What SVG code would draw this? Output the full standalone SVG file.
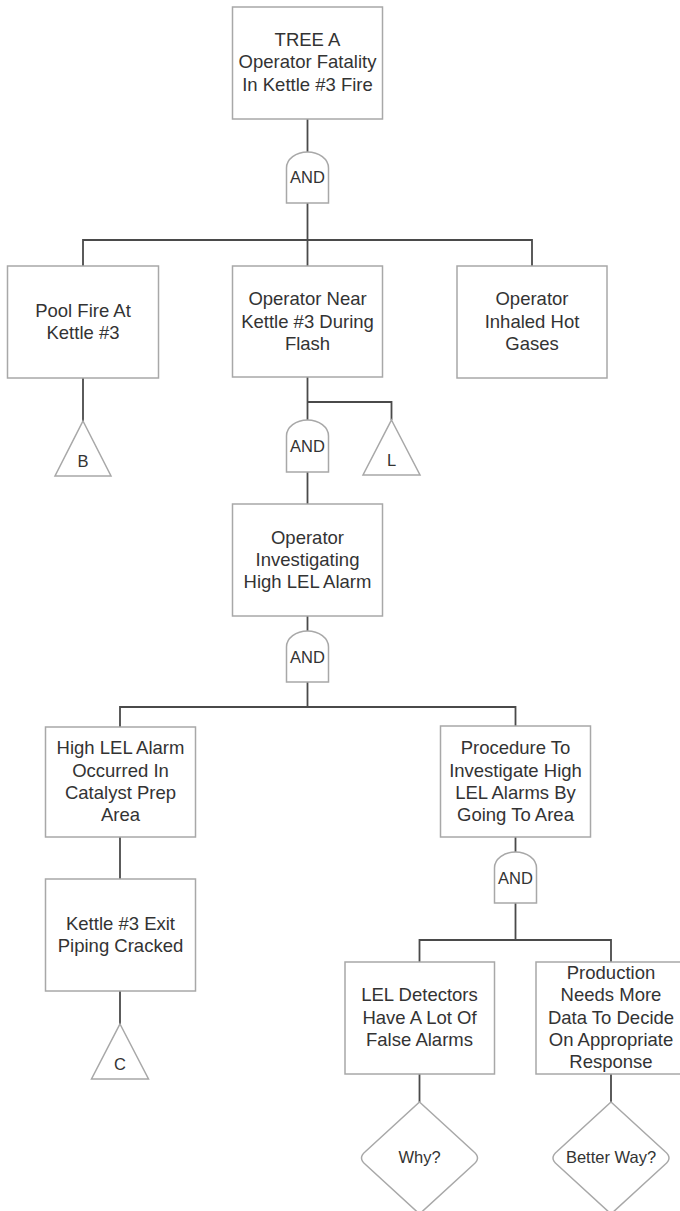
<svg xmlns="http://www.w3.org/2000/svg" width="680" height="1211" viewBox="0 0 680 1211">
  <style>
    .box { fill: #ffffff; stroke: #a8a8a8; stroke-width: 1.5; }
    .gate { fill: #ffffff; stroke: #a8a8a8; stroke-width: 1.5; }
    .tri { fill: #ffffff; stroke: #a8a8a8; stroke-width: 1.5; }
    .dia { fill: #ffffff; stroke: #a8a8a8; stroke-width: 1.5; }
    .wire { fill: none; stroke: #4a4a4a; stroke-width: 1.8; }
    text { font-family: "Liberation Sans", Arial, sans-serif; fill: #333333; text-anchor: middle; }
    .lbl { font-size: 18.5px; }
    .sm { font-size: 16.5px; }
  </style>
  <rect width="680" height="1211" fill="#ffffff"/>

  <!-- connectors -->
  <g id="connectors" class="wire">
    <path d="M307.5 119 V152"/>
    <path d="M307.5 203 V240"/>
    <path d="M83 266 V240 H532 V266"/>
    <path d="M307.5 240 V266"/>
    <path d="M83 378 V421"/>
    <path d="M307.5 377 V420"/>
    <path d="M307.5 402 H391.5 V420"/>
    <path d="M307.5 472 V504"/>
    <path d="M307.5 616 V631"/>
    <path d="M307.5 682 V707"/>
    <path d="M120 727 V707 H515.5 V726"/>
    <path d="M120 837 V879"/>
    <path d="M120 991 V1024"/>
    <path d="M515.5 837 V852"/>
    <path d="M515.5 903 V940"/>
    <path d="M419.5 962 V940 H611 V962"/>
    <path d="M419.5 1074 V1102"/>
    <path d="M611 1074 V1102"/>
  </g>

  <!-- top event -->
  <g id="top-event">
    <rect class="box" x="232.5" y="7" width="150" height="112"/>
    <text class="lbl"><tspan x="307.5" y="45.5">TREE A</tspan><tspan x="307.5" y="68">Operator Fatality</tspan><tspan x="307.5" y="90.5">In Kettle #3 Fire</tspan></text>
  </g>

  <g id="gate-and-1">
    <path class="gate" d="M286.5 203 V168 A21 16 0 0 1 328.5 168 V203 Z"/>
    <text class="sm" x="307.5" y="183">AND</text>
  </g>

  <g id="pool-fire">
    <rect class="box" x="7.5" y="266" width="151" height="112"/>
    <text class="lbl"><tspan x="83" y="317">Pool Fire At</tspan><tspan x="83" y="339">Kettle #3</tspan></text>
  </g>

  <g id="operator-near">
    <rect class="box" x="232.5" y="266" width="150" height="111"/>
    <text class="lbl"><tspan x="307.5" y="305">Operator Near</tspan><tspan x="307.5" y="327.5">Kettle #3 During</tspan><tspan x="307.5" y="349.5">Flash</tspan></text>
  </g>

  <g id="operator-inhaled">
    <rect class="box" x="457" y="266" width="150" height="112"/>
    <text class="lbl"><tspan x="532" y="305">Operator</tspan><tspan x="532" y="327.5">Inhaled Hot</tspan><tspan x="532" y="349.5">Gases</tspan></text>
  </g>

  <g id="transfer-b">
    <path class="tri" d="M83 421 L111 476 L55 476 Z"/>
    <text class="sm" x="83" y="467">B</text>
  </g>

  <g id="gate-and-2">
    <path class="gate" d="M286.5 472 V436 A21 16 0 0 1 328.5 436 V472 Z"/>
    <text class="sm" x="307.5" y="452">AND</text>
  </g>

  <g id="transfer-l">
    <path class="tri" d="M391.5 420 L420 475 L363 475 Z"/>
    <text class="sm" x="391.5" y="466">L</text>
  </g>

  <g id="operator-investigating">
    <rect class="box" x="232.5" y="504" width="150" height="112"/>
    <text class="lbl"><tspan x="307.5" y="543.5">Operator</tspan><tspan x="307.5" y="566">Investigating</tspan><tspan x="307.5" y="588">High LEL Alarm</tspan></text>
  </g>

  <g id="gate-and-3">
    <path class="gate" d="M286.5 682 V647 A21 16 0 0 1 328.5 647 V682 Z"/>
    <text class="sm" x="307.5" y="663">AND</text>
  </g>

  <g id="high-lel-alarm">
    <rect class="box" x="45.5" y="727" width="150" height="110"/>
    <text class="lbl"><tspan x="120.5" y="754">High LEL Alarm</tspan><tspan x="120.5" y="776.5">Occurred In</tspan><tspan x="120.5" y="799">Catalyst Prep</tspan><tspan x="120.5" y="821">Area</tspan></text>
  </g>

  <g id="kettle-piping">
    <rect class="box" x="45.5" y="879" width="150" height="112"/>
    <text class="lbl"><tspan x="120.5" y="929.5">Kettle #3 Exit</tspan><tspan x="120.5" y="952">Piping Cracked</tspan></text>
  </g>

  <g id="transfer-c">
    <path class="tri" d="M120 1024 L148.5 1079 L91.5 1079 Z"/>
    <text class="sm" x="120" y="1070">C</text>
  </g>

  <g id="procedure">
    <rect class="box" x="440.5" y="726" width="150" height="111"/>
    <text class="lbl"><tspan x="515.5" y="754">Procedure To</tspan><tspan x="515.5" y="776.5">Investigate High</tspan><tspan x="515.5" y="799">LEL Alarms By</tspan><tspan x="515.5" y="821">Going To Area</tspan></text>
  </g>

  <g id="gate-and-4">
    <path class="gate" d="M494.5 903 V868 A21 16 0 0 1 536.5 868 V903 Z"/>
    <text class="sm" x="515.5" y="883.5">AND</text>
  </g>

  <g id="lel-detectors">
    <rect class="box" x="345" y="962" width="149.5" height="112"/>
    <text class="lbl"><tspan x="419.5" y="1001">LEL Detectors</tspan><tspan x="419.5" y="1023.5">Have A Lot Of</tspan><tspan x="419.5" y="1045.5">False Alarms</tspan></text>
  </g>

  <g id="production-needs">
    <rect class="box" x="536" y="962" width="150" height="112"/>
    <text class="lbl"><tspan x="611" y="978.5">Production</tspan><tspan x="611" y="1001">Needs More</tspan><tspan x="611" y="1023.5">Data To Decide</tspan><tspan x="611" y="1046">On Appropriate</tspan><tspan x="611" y="1068">Response</tspan></text>
  </g>

  <g id="why">
    <path class="dia" d="M419.5 1102 L473.5 1151.5 Q481.5 1158 473.5 1164.5 L419.5 1214 L365.5 1164.5 Q357.5 1158 365.5 1151.5 Z"/>
    <text class="sm" x="419.5" y="1163">Why?</text>
  </g>

  <g id="better-way">
    <path class="dia" d="M611 1102 L665 1151.5 Q673 1158 665 1164.5 L611 1214 L557 1164.5 Q549 1158 557 1151.5 Z"/>
    <text class="sm" x="611" y="1163">Better Way?</text>
  </g>
</svg>
